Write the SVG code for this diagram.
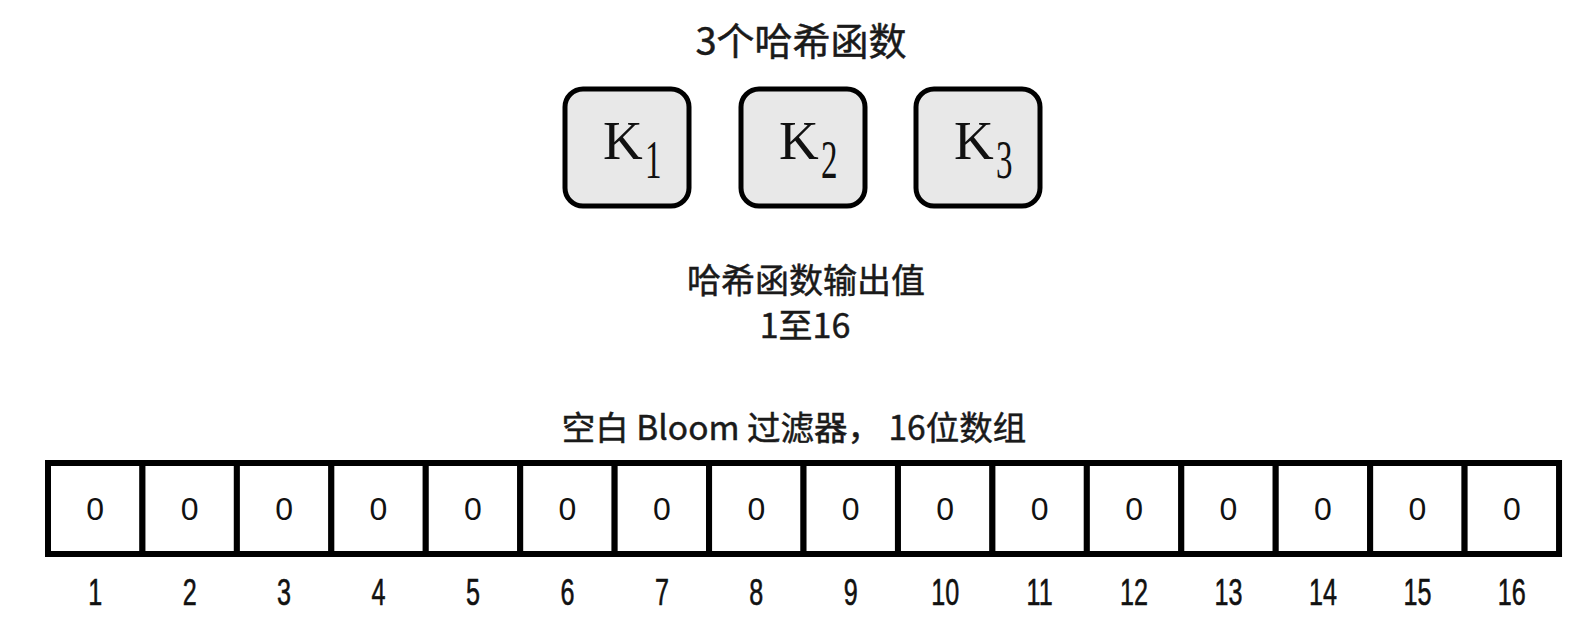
<svg xmlns="http://www.w3.org/2000/svg" width="1596" height="617" viewBox="0 0 1596 617">
<style>
.cjk{font-family:"Noto Sans CJK SC","Noto Sans",sans-serif;font-weight:400;fill:#1a1a1a;text-anchor:middle;stroke:#1a1a1a;stroke-width:0.5}
.key{fill:#e8e8e8;stroke:#000;stroke-width:5}
.k{font-family:"Liberation Serif",serif;font-size:55px;fill:#111}
.cell{fill:#fff;stroke:#000;stroke-width:6}
.zero{font-family:"Liberation Sans",sans-serif;font-size:32px;fill:#111;text-anchor:middle}
.idx{font-family:"Liberation Sans",sans-serif;font-size:37px;fill:#111;text-anchor:middle;stroke:#111;stroke-width:0.6}
</style>
<rect width="1596" height="617" fill="#fff"/>
<g id="title"><text class="cjk" x="801" y="55" font-size="38">3个哈希函数</text></g>
<g id="k1"><rect class="key" x="565" y="89" width="124" height="117" rx="18"/><text class="k" x="603" y="159">K</text><text class="k" transform="translate(645,178) scale(0.6,1)">1</text></g>
<g id="k2"><rect class="key" x="741" y="89" width="124" height="117" rx="18"/><text class="k" x="779" y="159">K</text><text class="k" transform="translate(821,178) scale(0.6,1)">2</text></g>
<g id="k3"><rect class="key" x="916" y="89" width="124" height="117" rx="18"/><text class="k" x="954" y="159">K</text><text class="k" transform="translate(996,178) scale(0.6,1)">3</text></g>
<g id="output-label"><text class="cjk" x="806" y="293" font-size="34">哈希函数输出值</text><text class="cjk" x="805" y="338" font-size="34">1至16</text></g>
<g id="array-label"><text class="cjk" x="794" y="440" font-size="33.5">空白 Bloom 过滤器， 16位数组</text></g>
<g id="array">
<g id="c1"><rect class="cell" x="48" y="463" width="94.44" height="91"/><text class="zero" x="95.2" y="520">0</text></g>
<g id="c2"><rect class="cell" x="142.44" y="463" width="94.44" height="91"/><text class="zero" x="189.7" y="520">0</text></g>
<g id="c3"><rect class="cell" x="236.88" y="463" width="94.44" height="91"/><text class="zero" x="284.1" y="520">0</text></g>
<g id="c4"><rect class="cell" x="331.32" y="463" width="94.44" height="91"/><text class="zero" x="378.5" y="520">0</text></g>
<g id="c5"><rect class="cell" x="425.76" y="463" width="94.44" height="91"/><text class="zero" x="473" y="520">0</text></g>
<g id="c6"><rect class="cell" x="520.2" y="463" width="94.44" height="91"/><text class="zero" x="567.4" y="520">0</text></g>
<g id="c7"><rect class="cell" x="614.64" y="463" width="94.44" height="91"/><text class="zero" x="661.9" y="520">0</text></g>
<g id="c8"><rect class="cell" x="709.08" y="463" width="94.44" height="91"/><text class="zero" x="756.3" y="520">0</text></g>
<g id="c9"><rect class="cell" x="803.52" y="463" width="94.44" height="91"/><text class="zero" x="850.7" y="520">0</text></g>
<g id="c10"><rect class="cell" x="897.96" y="463" width="94.44" height="91"/><text class="zero" x="945.2" y="520">0</text></g>
<g id="c11"><rect class="cell" x="992.4" y="463" width="94.44" height="91"/><text class="zero" x="1039.6" y="520">0</text></g>
<g id="c12"><rect class="cell" x="1086.84" y="463" width="94.44" height="91"/><text class="zero" x="1134.1" y="520">0</text></g>
<g id="c13"><rect class="cell" x="1181.28" y="463" width="94.44" height="91"/><text class="zero" x="1228.5" y="520">0</text></g>
<g id="c14"><rect class="cell" x="1275.72" y="463" width="94.44" height="91"/><text class="zero" x="1322.9" y="520">0</text></g>
<g id="c15"><rect class="cell" x="1370.16" y="463" width="94.44" height="91"/><text class="zero" x="1417.4" y="520">0</text></g>
<g id="c16"><rect class="cell" x="1464.6" y="463" width="94.44" height="91"/><text class="zero" x="1511.8" y="520">0</text></g>
</g>
<g id="indices">
<text class="idx" transform="translate(95.2,605) scale(0.68,1)">1</text>
<text class="idx" transform="translate(189.7,605) scale(0.68,1)">2</text>
<text class="idx" transform="translate(284.1,605) scale(0.68,1)">3</text>
<text class="idx" transform="translate(378.5,605) scale(0.68,1)">4</text>
<text class="idx" transform="translate(473,605) scale(0.68,1)">5</text>
<text class="idx" transform="translate(567.4,605) scale(0.68,1)">6</text>
<text class="idx" transform="translate(661.9,605) scale(0.68,1)">7</text>
<text class="idx" transform="translate(756.3,605) scale(0.68,1)">8</text>
<text class="idx" transform="translate(850.7,605) scale(0.68,1)">9</text>
<text class="idx" transform="translate(945.2,605) scale(0.68,1)">10</text>
<text class="idx" transform="translate(1039.6,605) scale(0.68,1)">11</text>
<text class="idx" transform="translate(1134.1,605) scale(0.68,1)">12</text>
<text class="idx" transform="translate(1228.5,605) scale(0.68,1)">13</text>
<text class="idx" transform="translate(1322.9,605) scale(0.68,1)">14</text>
<text class="idx" transform="translate(1417.4,605) scale(0.68,1)">15</text>
<text class="idx" transform="translate(1511.8,605) scale(0.68,1)">16</text>
</g>
<g id="connectors"></g>
</svg>
